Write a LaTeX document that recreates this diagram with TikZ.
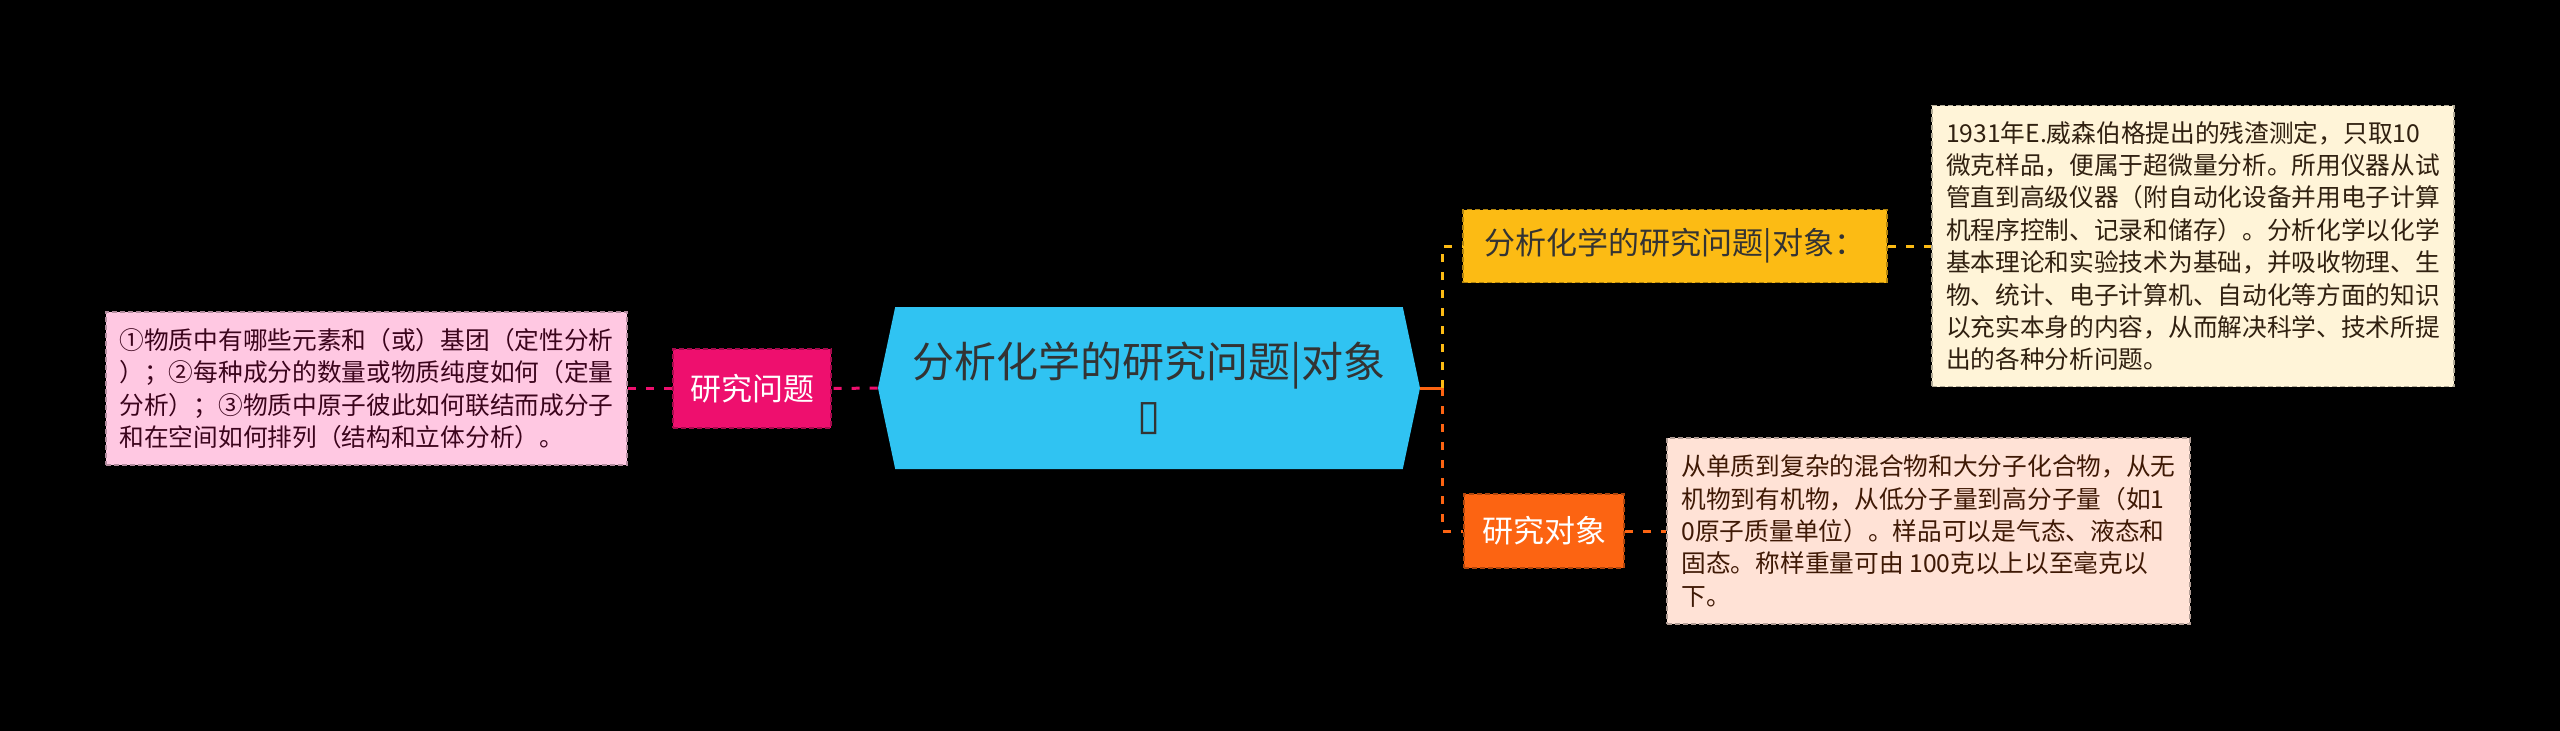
\documentclass[tikz,border=0pt]{standalone}
\usepackage{fontspec}
\setmainfont{Noto Sans CJK SC}
\newfontfamily\symfont{DejaVu Sans}
\usepackage{xcolor}
\usetikzlibrary{shapes.symbols}

\definecolor{rootblue}{HTML}{30C3F2}
\definecolor{rosered}{HTML}{EE0F6E}
\definecolor{rosepale}{HTML}{FFC8E2}
\definecolor{goldtop}{HTML}{FCBB14}
\definecolor{goldpale}{HTML}{FFF4D8}
\definecolor{orangetop}{HTML}{FC6412}
\definecolor{orangepale}{HTML}{FFE2D6}

\begin{document}
\begin{tikzpicture}[x=0.5pt,y=-0.5pt,
  box/.style={rectangle,inner sep=0pt,line width=0.8pt,dash pattern=on 2.5pt off 1.5pt},
  topic/.style={box,font=\fontsize{15.5pt}{18pt}\selectfont,text=white},
  note/.style={box,align=left,font=\fontsize{12.35pt}{16.2pt}\selectfont},
  link/.style={line width=1.5pt,dash pattern=on 4pt off 5pt}]
  \useasboundingbox (0,0) rectangle (2560,730);
  \fill[black] (-10,-10) rectangle (2570,740);

  % centre
  \node[signal,signal to=west and east,signal pointer angle=156,fill=rootblue,
    minimum width=271pt,minimum height=81pt,inner sep=0pt,align=center,
    text=black!80,font=\fontsize{21pt}{26pt}\selectfont] (root) at (1149,388)
    {分析化学的研究问题|对象\\{\symfont ▯}};

  % left branch
  \node[topic,fill=rosered,draw=rosered!70!black,minimum width=79pt,minimum height=39.5pt]
    (question) at (752,388.5) {研究问题};
  \node[note,fill=rosepale,draw=rosepale!70!black,text=black!75!rosered,
    minimum width=260.5pt,minimum height=76.5pt] (questiontext) at (366.5,388.5)
    {①物质中有哪些元素和（或）基团（定性分析\\
     ）；②每种成分的数量或物质纯度如何（定量\\
     分析）；③物质中原子彼此如何联结而成分子\\
     和在空间如何排列（结构和立体分析）。};
  \draw[link,rosered] (root.west) -- (question.east);
  \draw[link,rosered] (question.west) -- (questiontext.east);

  % right branches
  \coordinate (fork) at (1442,388);
  \node[topic,fill=goldtop,draw=goldtop!70!black,text=black!80,
    minimum width=212pt,minimum height=36.5pt] (subject) at (1675,246) {分析化学的研究问题|对象：};
  \node[note,fill=goldpale,draw=goldpale!70!black,text=black!75!brown,
    minimum width=261pt,minimum height=140.5pt] (subjecttext) at (2193,246)
    {1931年E.威森伯格提出的残渣测定，只取10\\
     微克样品，便属于超微量分析。所用仪器从试\\
     管直到高级仪器（附自动化设备并用电子计算\\
     机程序控制、记录和储存）。分析化学以化学\\
     基本理论和实验技术为基础，并吸收物理、生\\
     物、统计、电子计算机、自动化等方面的知识\\
     以充实本身的内容，从而解决科学、技术所提\\
     出的各种分析问题。};
  \node[topic,fill=orangetop,draw=orangetop!70!black,
    minimum width=80pt,minimum height=37pt] (object) at (1544,531) {研究对象};
  \node[note,fill=orangepale,draw=orangepale!70!black,text=black!75!orangetop,
    minimum width=261.5pt,minimum height=93pt] (objecttext) at (1928.5,531)
    {从单质到复杂的混合物和大分子化合物，从无\\
     机物到有机物，从低分子量到高分子量（如1\\
     0原子质量单位）。样品可以是气态、液态和\\
     固态。称样重量可由 100克以上以至毫克以\\
     下。};
  \draw[line width=1.5pt,orangetop] (root.east) -- (fork);
  \draw[link,goldtop] (fork) |- (subject.west);
  \draw[link,orangetop] (fork) |- (object.west);
  \draw[link,goldtop] (subject.east) -- (subjecttext.west);
  \draw[link,orangetop] (object.east) -- (objecttext.west);
\end{tikzpicture}
\end{document}
